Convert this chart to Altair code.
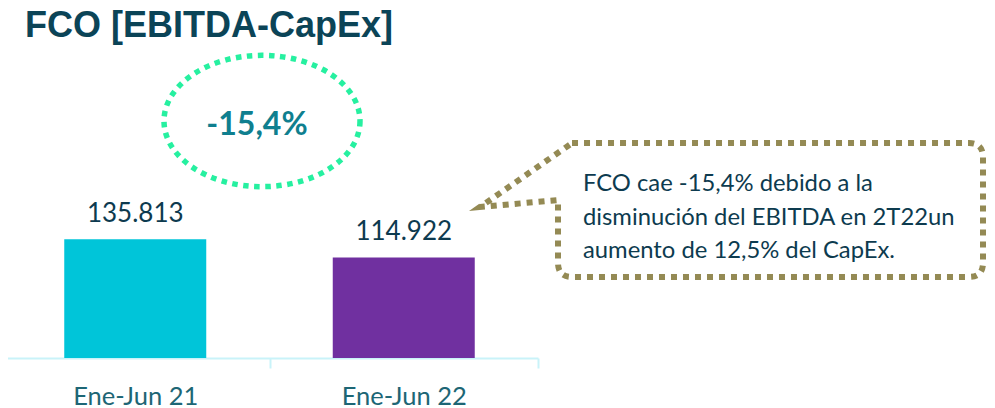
import altair as alt
import pandas as pd

categories = ["Ene-Jun 21", "Ene-Jun 22"]
values = [135813, 114922]
value_labels = ["135.813", "114.922"]
bar_colors = ["#00C5D9", "#7030A0"]
title_text = ["FCO [EBITDA-CapEx]"]
change_text = ["-15,4%"]
note_lines = ["FCO cae -15,4% debido a la",
              "disminución del EBITDA en 2T22un",
              "aumento de 12,5% del CapEx."]

df = pd.DataFrame({"cat": categories, "val": values, "lab": value_labels, "col": bar_colors})
one = pd.DataFrame({"k": [0]})

FONT = "Lato"

x = alt.X("cat:N", sort=categories,
          scale=alt.Scale(range=[-7, 530], paddingInner=0, paddingOuter=0),
          axis=alt.Axis(title=None, labelFont=FONT, labelFontSize=25.5, labelColor="#1D6675",
                        labelAngle=0, labelPadding=16, domainColor="#C9F3F9", domainWidth=2,
                        tickColor="#C9F3F9", tickWidth=2, tickSize=10, tickBand="extent"))
y = alt.Y("val:Q", scale=alt.Scale(domain=[0, 400000]), axis=None)

bars = alt.Chart(df).mark_bar(width=142).encode(
    x=x, y=y, color=alt.Color("col:N", scale=None))

labels = alt.Chart(df).mark_text(font=FONT, fontSize=26, color="#0D3A4F",
                                 baseline="alphabetic", dy=-17).encode(
    x=x, y=y, text="lab:N")

title = alt.Chart(pd.DataFrame({"t": title_text})).mark_text(
    font="Liberation Sans", fontSize=36, fontWeight="bold", color="#0B4457",
    align="left", baseline="alphabetic").encode(
    x=alt.value(17), y=alt.value(29), text="t:N")

b = 0.67
kb = round(0.5523 * b, 4)
k = 0.5523
ellipse_path = (f"M 1 0 C 1 {kb} {k} {b} 0 {b} C {-k} {b} -1 {kb} -1 0 "
                f"C -1 {-kb} {-k} {-b} 0 {-b} C {k} {-b} 1 {-kb} 1 0 Z")

ellipse = alt.Chart(one).mark_point(
    shape=ellipse_path, filled=False, opacity=1, stroke="#26F0A0", strokeWidth=5.5,
    strokeDash=[5.5, 5.5], strokeCap="butt").encode(
    x=alt.value(254), y=alt.value(113), size=alt.value(196 * 196))

change = alt.Chart(pd.DataFrame({"t": change_text})).mark_text(
    font=FONT, fontSize=32, fontWeight="bold", color="#0F7F8F",
    align="center", baseline="alphabetic").encode(
    x=alt.value(249), y=alt.value(127), text="t:N")

callout_path = ("M -0.934 -0.315 L 0.934 -0.315 Q 1 -0.315 1 -0.249 L 1 0.249 "
                "Q 1 0.315 0.934 0.315 L -0.934 0.315 Q -1 0.315 -1 0.249 "
                "L -1 -0.047 L -1.367 -0.014 Z")

callout = alt.Chart(one).mark_point(
    shape=callout_path, filled=False, opacity=1, stroke="#948A54", strokeWidth=6,
    strokeDash=[6, 6], strokeCap="butt").encode(
    x=alt.value(762.5), y=alt.value(202), size=alt.value(425 * 425))

note = alt.Chart(one).mark_text(
    text=note_lines, font=FONT, fontSize=23.8, color="#0D3B4F", align="left",
    baseline="alphabetic", lineHeight=33.5).encode(
    x=alt.value(575), y=alt.value(183))

chart = alt.layer(bars, labels, title, ellipse, change, callout, note).properties(
    width=979, height=350,
    autosize=alt.AutoSizeParams(type="none"),
    padding={"left": 0, "top": 0, "right": 0, "bottom": 50},
    background="white",
).configure_view(stroke=None)

chart.save("out.html", embed_options={"renderer": "svg", "actions": False})
